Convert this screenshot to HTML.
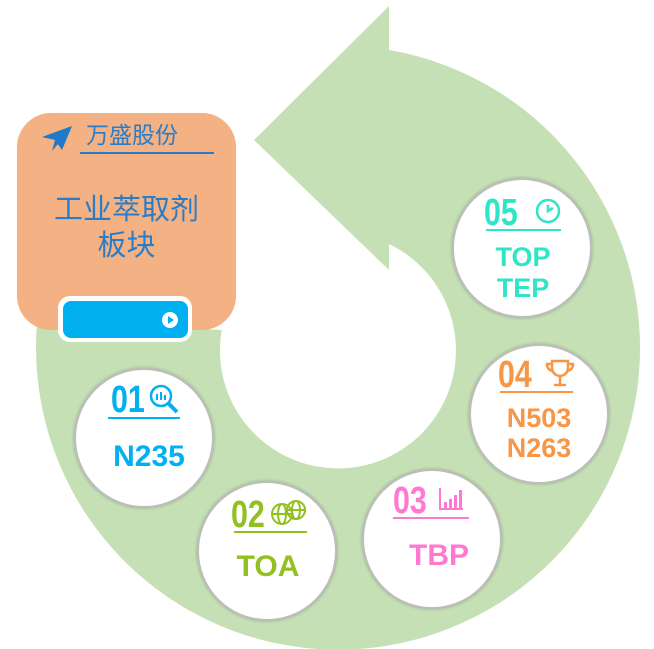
<!DOCTYPE html>
<html><head><meta charset="utf-8"><style>
html,body{margin:0;padding:0;background:#fff;}
body{width:654px;height:649px;position:relative;overflow:hidden;font-family:"Liberation Sans","Noto Sans CJK SC",sans-serif;}
.c{position:absolute;width:136px;height:136px;border-radius:50%;background:#fff;border:2px solid #bdbdbd;box-shadow:0 0 3px rgba(0,0,0,0.25);}
.t{position:absolute;left:0;width:100%;text-align:center;font-weight:bold;white-space:nowrap;}
.n{position:absolute;font-weight:bold;font-size:38px;line-height:40px;transform:scaleX(0.8);transform-origin:left center;}
.u{position:absolute;height:2px;}
</style></head><body>
<svg width="654" height="649" style="position:absolute;left:0;top:0">
<path d="M389 50 A302 302 0 1 1 37.3 320 L221.7 330 A118 118 0 1 0 389 244 Z" fill="#c5e0b4"/>
<polygon points="389,6 254,140 389,270" fill="#c5e0b4"/>
</svg>

<div style="position:absolute;left:17px;top:113px;width:219px;height:217px;background:#f4b183;border-radius:34px;"></div>
<svg width="40" height="34" style="position:absolute;left:40px;top:122px">
<polygon points="2,15 32,4 22,28 15,18" fill="#1f78c8"/>
<polygon points="15,18 12,29 18,22" fill="#1f78c8"/>
</svg>
<div style="position:absolute;left:86px;top:121px;font-size:23px;line-height:28px;color:#2a7cc7;">万盛股份</div>
<div style="position:absolute;left:80px;top:152px;width:134px;height:2px;background:#2a7cc7;"></div>
<div style="position:absolute;left:17px;top:192px;width:219px;text-align:center;font-size:29px;line-height:36px;color:#2a7cc7;">工业萃取剂<br>板块</div>
<div style="position:absolute;left:58px;top:296px;width:134px;height:46px;background:#fff;border-radius:12px;"></div>
<div style="position:absolute;left:63px;top:301px;width:125px;height:37px;background:#00b0f0;border-radius:8px;"></div>
<div style="position:absolute;left:162px;top:312px;width:16px;height:16px;background:#fff;border-radius:50%;"></div>
<div style="position:absolute;left:168px;top:316px;width:0;height:0;border-left:6px solid #00b0f0;border-top:4px solid transparent;border-bottom:4px solid transparent;"></div>

<div class="c" style="left:74px;top:368px;"></div>
<div class="n" style="left:111px;top:380px;color:#00b0f0;">01</div>
<svg width="34" height="32" style="position:absolute;left:148px;top:383px"><circle cx="13" cy="13" r="10" fill="none" stroke="#00b0f0" stroke-width="2.5"/><line x1="20" y1="20" x2="29" y2="29" stroke="#00b0f0" stroke-width="4"/><rect x="8" y="11" width="2" height="6" fill="#00b0f0"/><rect x="12" y="9" width="2" height="8" fill="#00b0f0"/><rect x="16" y="12" width="2" height="5" fill="#00b0f0"/></svg>
<div class="u" style="left:108px;top:417px;width:72px;background:#00b0f0;"></div>
<div class="t" style="left:0;width:298px;top:440px;font-size:30px;color:#00b0f0;">N235</div>

<div class="c" style="left:197px;top:481px;"></div>
<div class="n" style="left:231px;top:495px;color:#92c01f;">02</div>
<svg width="40" height="30" style="position:absolute;left:270px;top:498px"><g fill="none" stroke="#92c01f" stroke-width="2"><circle cx="12" cy="16" r="10"/><ellipse cx="12" cy="16" rx="4" ry="10"/><line x1="2" y1="16" x2="22" y2="16"/><circle cx="26" cy="12" r="9"/><ellipse cx="26" cy="12" rx="4" ry="9"/><line x1="17" y1="12" x2="35" y2="12"/></g></svg>
<div class="u" style="left:234px;top:531px;width:73px;background:#92c01f;"></div>
<div class="t" style="left:0;width:536px;top:550px;font-size:30px;color:#92c01f;">TOA</div>

<div class="c" style="left:362px;top:469px;"></div>
<div class="n" style="left:393px;top:481px;color:#ff79d2;">03</div>
<svg width="26" height="26" style="position:absolute;left:438px;top:486px"><g fill="#ff79d2"><rect x="1" y="2" width="2" height="22"/><rect x="1" y="22" width="24" height="2"/><rect x="6" y="16" width="3" height="6"/><rect x="11" y="13" width="3" height="9"/><rect x="16" y="9" width="3" height="13"/><rect x="21" y="4" width="3" height="18"/></g></svg>
<div class="u" style="left:393px;top:517px;width:76px;background:#ff79d2;"></div>
<div class="t" style="left:0;width:878px;top:539px;font-size:30px;color:#ff79d2;">TBP</div>

<div class="c" style="left:469px;top:344px;"></div>
<div class="n" style="left:498px;top:355px;color:#f79646;">04</div>
<svg width="30" height="30" style="position:absolute;left:545px;top:358px"><g fill="none" stroke="#f79646" stroke-width="2.5"><path d="M7 3 H23 V9 Q23 17 15 18 Q7 17 7 9 Z"/><path d="M7 6 H2 Q2 12 8 13"/><path d="M23 6 H28 Q28 12 22 13"/><line x1="15" y1="18" x2="15" y2="26"/><line x1="9" y1="27" x2="21" y2="27"/></g></svg>
<div class="u" style="left:500px;top:391px;width:73px;background:#f79646;"></div>
<div class="t" style="left:0;width:1078px;top:403px;font-size:27px;line-height:30px;color:#f79646;">N503<br>N263</div>

<div class="c" style="left:452px;top:178px;"></div>
<div class="n" style="left:484px;top:193px;color:#2ee6c6;">05</div>
<svg width="28" height="28" style="position:absolute;left:534px;top:197px"><g fill="none" stroke="#2ee6c6" stroke-width="2.5"><circle cx="14" cy="14" r="11"/><path d="M14 8 V14 L19 11"/></g></svg>
<div class="u" style="left:486px;top:229px;width:75px;background:#2ee6c6;"></div>
<div class="t" style="left:0;width:1046px;top:242px;font-size:27px;line-height:31px;color:#2ee6c6;">TOP<br>TEP</div>
</body></html>
